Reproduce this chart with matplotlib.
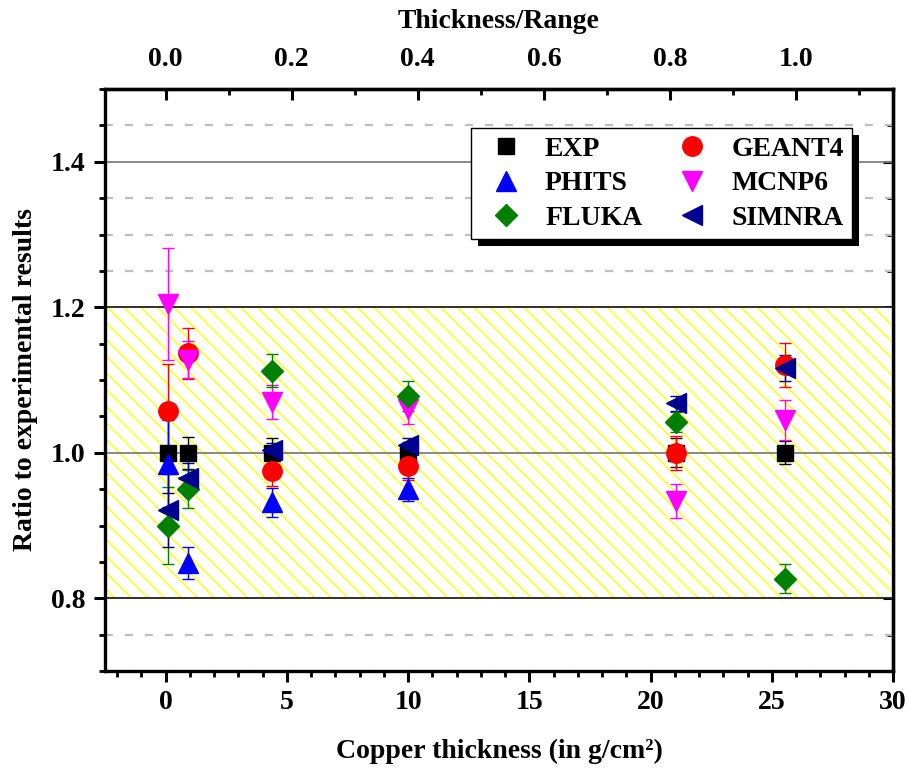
import matplotlib
matplotlib.use("Agg")
import matplotlib.pyplot as plt
from matplotlib.ticker import MultipleLocator, FormatStrFormatter
from matplotlib.patches import Rectangle
from matplotlib.lines import Line2D

plt.rcParams['font.family'] = ['Liberation Serif', 'DejaVu Serif']
plt.rcParams['font.weight'] = 'bold'
plt.rcParams['hatch.linewidth'] = 1.0

# ---- data ----
x_groups = [0.1, 0.92, 4.4, 10.0, 21.05, 25.55]

exp_x = x_groups
exp_y = [1.0, 1.0, 1.0, 1.0, 1.0, 1.0]
exp_err = [0.055, 0.022, 0.02, 0.015, 0.02, 0.016]

geant4_x = x_groups
geant4_y = [1.057, 1.137, 0.975, 0.982, 1.0, 1.121]
geant4_err = [0.065, 0.035, 0.02, 0.02, 0.023, 0.03]

phits_x = [0.1, 0.92, 4.4, 10.0]
phits_y = [0.985, 0.848, 0.932, 0.950]
phits_err = [0.06, 0.022, 0.02, 0.016]

mcnp6_x = x_groups
mcnp6_y = [1.204, 1.128, 1.07, 1.06, 0.934, 1.045]
mcnp6_err = [0.077, 0.025, 0.023, 0.02, 0.023, 0.028]

fluka_x = x_groups
fluka_y = [0.900, 0.950, 1.113, 1.078, 1.042, 0.827]
fluka_err = [0.053, 0.026, 0.023, 0.02, 0.014, 0.02]

simnra_x = x_groups
simnra_y = [0.921, 0.966, 1.004, 1.010, 1.068, 1.117]
simnra_err = [0.05, 0.02, 0.01, 0.01, 0.01, 0.018]

range_gcm2 = 26.0  # Thickness/Range scale

fig = plt.figure(figsize=(9.09, 7.8), dpi=100)
ax = fig.add_axes([0.1155, 0.1397, 0.8669, 0.7462])

ax.set_xlim(-2.5, 30)
ax.set_ylim(0.7, 1.5)

# band
ax.axhspan(0.8, 1.2, facecolor='white', edgecolor='#FFFF00', hatch='\\\\', linewidth=0, zorder=0.6)

# grids
ax.yaxis.set_major_locator(MultipleLocator(0.2))
ax.yaxis.set_minor_locator(MultipleLocator(0.05))
ax.xaxis.set_major_locator(MultipleLocator(5))
ax.xaxis.set_minor_locator(MultipleLocator(1))
ax.yaxis.set_major_formatter(FormatStrFormatter('%.1f'))
for yv in [1.0, 1.4]:
    ax.axhline(yv, color='#808080', lw=1.3, zorder=0.8)
for yv in [0.8, 1.2]:
    ax.axhline(yv, color='#202020', lw=1.3, zorder=0.8)
ax.grid(True, axis='y', which='minor', color='#BEBEBE', lw=1.6, linestyle=(0, (3.6, 5.4)), zorder=0.7)
ax.set_axisbelow(True)

style = dict(elinewidth=1.0, capthick=1.0, capsize=4.5, linestyle='none')
specs = [
    ('EXP', exp_x, exp_y, exp_err, 's', 'black', 12),
    ('GEANT4', geant4_x, geant4_y, geant4_err, 'o', '#FF0000', 14),
    ('PHITS', phits_x, phits_y, phits_err, '^', '#0000FF', 15),
    ('MCNP6', mcnp6_x, mcnp6_y, mcnp6_err, 'v', '#FF00FF', 15),
    ('FLUKA', fluka_x, fluka_y, fluka_err, 'D', '#008000', 11.5),
    ('SIMNRA', simnra_x, simnra_y, simnra_err, '<', '#000090', 15),
]
handles = {}
for name, xs, ys, es, mk, col, ms in specs:
    ax.errorbar(xs, ys, yerr=es, fmt=mk, color=col, ms=ms, zorder=3, **style)
    handles[name] = Line2D([], [], marker=mk, color=col, ms=ms, linestyle='none')

# spines and ticks
for s in ax.spines.values():
    s.set_linewidth(2.4)
ax.tick_params(axis='both', which='major', direction='out', length=8, width=2.2, labelsize=20, pad=6)
ax.tick_params(axis='both', which='minor', direction='out', length=4.5, width=2.0)
ax.tick_params(top=False, right=False, which='both')

ax.set_xlabel('Copper thickness (in g/cm²)', fontsize=20, fontweight='bold', labelpad=17)
ax.set_ylabel('Ratio to experimental results', fontsize=20, fontweight='bold', labelpad=9)

# top axis
sec = ax.secondary_xaxis('top', functions=(lambda v: v / range_gcm2, lambda t: t * range_gcm2))
sec.set_xticks([0.0, 0.2, 0.4, 0.6, 0.8, 1.0])
sec.xaxis.set_minor_locator(MultipleLocator(0.1))
sec.xaxis.set_major_formatter(FormatStrFormatter('%.1f'))
sec.tick_params(axis='x', which='major', direction='in', length=8, width=2.2, labelsize=20, pad=12)
sec.tick_params(axis='x', which='minor', direction='in', length=4.5, width=2.0)
sec.spines['top'].set_linewidth(2.4)
sec.set_xlabel('Thickness/Range', fontsize=20, fontweight='bold', labelpad=14)

# right ticks (inward)
rsec = ax.secondary_yaxis('right')
rsec.yaxis.set_major_locator(MultipleLocator(0.2))
rsec.yaxis.set_minor_locator(MultipleLocator(0.05))
rsec.tick_params(axis='y', which='major', direction='in', length=7, width=2.2, labelright=False)
rsec.tick_params(axis='y', which='minor', direction='in', length=4.5, width=2.0)
rsec.spines['right'].set_linewidth(2.4)

# legend
order = ['EXP', 'PHITS', 'FLUKA', 'GEANT4', 'MCNP6', 'SIMNRA']
leg = ax.legend([handles[n] for n in order], order, ncol=2, loc='upper right',
                bbox_to_anchor=(0.948, 0.933),
                borderaxespad=0, frameon=True, fancybox=False, framealpha=1, edgecolor='black',
                prop={'family': 'Liberation Serif', 'weight': 'bold', 'size': 20},
                handlelength=1.9, handletextpad=0.45, columnspacing=0.85, labelspacing=0.33,
                borderpad=0.3)
leg.get_frame().set_linewidth(1.0)
leg.set_zorder(6)

fig.canvas.draw()
bb = leg.get_window_extent()
inv = ax.transAxes.inverted()
(x0, y0) = inv.transform((bb.x0 + 7, bb.y0 - 7))
(x1, y1) = inv.transform((bb.x1 + 7, bb.y1 - 7))
ax.add_patch(Rectangle((x0, y0), x1 - x0, y1 - y0, transform=ax.transAxes,
                       facecolor='black', edgecolor='none', zorder=5.5, clip_on=False))

fig.savefig('out.png', dpi=100)
